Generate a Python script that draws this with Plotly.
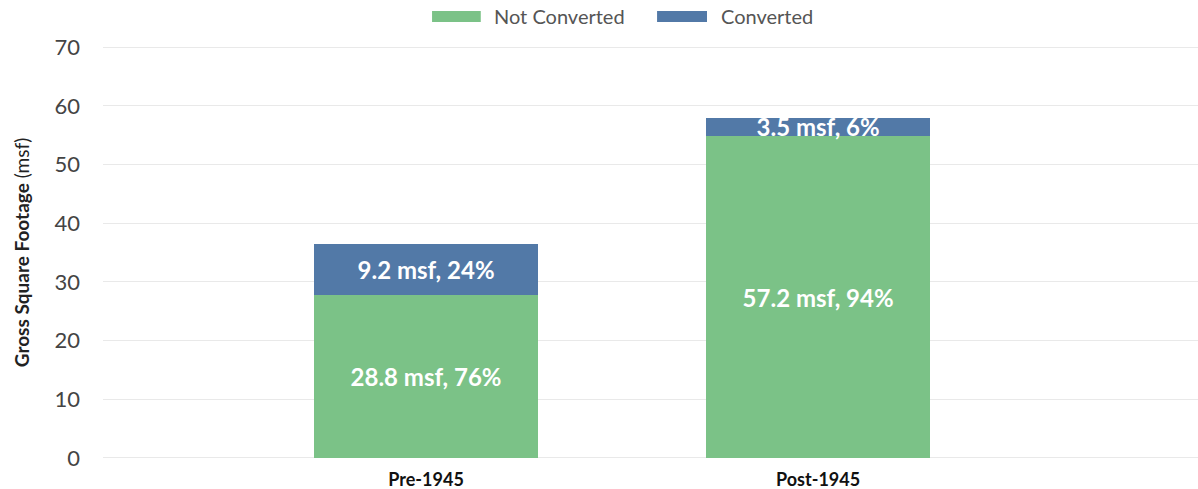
import plotly.graph_objects as go

categories = ["Pre-1945", "Post-1945"]
not_converted = [27.7, 54.8]
converted = [8.7, 3.2]
not_converted_labels = ["28.8 msf, 76%", "57.2 msf, 94%"]
converted_labels = ["9.2 msf, 24%", "3.5 msf, 6%"]
y_ticks = [0, 10, 20, 30, 40, 50, 60, 70]

GREEN = "#7bc287"
BLUE = "#5279a7"
FONT = "Lato"

fig = go.Figure()
fig.add_trace(go.Bar(
    x=categories, y=not_converted, name="Not Converted",
    marker=dict(color=GREEN, line=dict(width=0)),
    text=not_converted_labels, textposition="inside", insidetextanchor="middle",
    textangle=0, textfont=dict(family=FONT, size=24, color="white", weight=700),
    width=0.571, hoverinfo="skip",
))
fig.add_trace(go.Bar(
    x=categories, y=converted, name="Converted",
    marker=dict(color=BLUE, line=dict(width=0)),
    text=converted_labels, textposition="inside", insidetextanchor="middle",
    textangle=0, textfont=dict(family=FONT, size=24, color="white", weight=700),
    width=0.571, hoverinfo="skip",
))

# manual legend (wide swatches as in the reference)
legend_items = [("Not Converted", GREEN, 0.3005, 0.345, 0.355),
                ("Converted", BLUE, 0.506, 0.5516, 0.5625)]
shapes = []
annotations = []
for label, col, x0, x1, tx in legend_items:
    shapes.append(dict(type="rect", xref="paper", yref="paper", x0=x0, x1=x1,
                       y0=1.058, y1=1.085, fillcolor=col, line=dict(width=0)))
    annotations.append(dict(text=label, xref="paper", yref="paper", x=tx, y=1.072,
                            xanchor="left", yanchor="middle", showarrow=False,
                            font=dict(family=FONT, size=20, color="#555555")))

fig.update_layout(
    barmode="stack",
    width=1198, height=489,
    margin=dict(l=103, r=0, t=46, b=30),
    paper_bgcolor="white", plot_bgcolor="white",
    showlegend=False,
    shapes=shapes, annotations=annotations,
    uniformtext=dict(minsize=24, mode="show"),
    font=dict(family=FONT),
)
fig.update_xaxes(
    type="category", range=[-0.824, 1.969],
    showgrid=False, showline=False, zeroline=False, ticks="",
    tickfont=dict(family=FONT, size=18, color="#111111", weight=700),
    ticklabelstandoff=8, automargin=False,
)
fig.update_yaxes(
    range=[-0.2, 70.2], tickvals=y_ticks, ticktext=[str(v) for v in y_ticks],
    showgrid=True, gridcolor="#e9e9e9", gridwidth=1,
    zeroline=False, showline=False, ticks="",
    tickfont=dict(family=FONT, size=22, color="#444444"),
    ticklabelstandoff=22,
    title=dict(text="<b>Gross Square Footage</b> (msf)", standoff=19,
               font=dict(family=FONT, size=19, color="#222222")),
    automargin=False,
)

fig.write_html("out.html")
